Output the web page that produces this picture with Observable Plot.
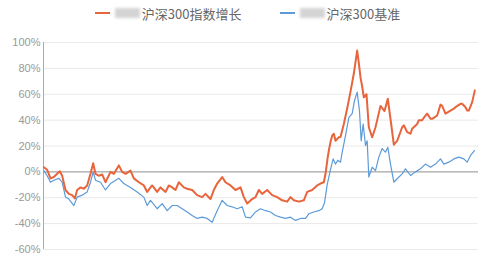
<!DOCTYPE html>
<html>
<head>
<meta charset="utf-8">
<script src="https://cdn.jsdelivr.net/npm/d3@7"></script>
<script src="https://cdn.jsdelivr.net/npm/@observablehq/plot@0.6"></script>
<style>
  body { margin: 0; background: #fff; }
  #legend { height: 26px; display: flex; justify-content: center; align-items: center; gap: 38px;
    font: 13px "Noto Sans CJK SC", sans-serif; color: #666; padding-right: 5px; }
  .item { display: flex; align-items: center; }
  .sw { display: inline-block; width: 15px; height: 2px; margin-right: 5px; }
  .blur { display: inline-block; width: 25px; height: 10px; background: #d4d4d4; filter: blur(1.5px); margin-right: 2px; }
</style>
</head>
<body>
<div id="legend"></div>
<div id="chart"></div>
<script>
const seriesNames = ["沪深300指数增长", "沪深300基准"];
const seriesColors = ["#e8653c", "#5d9bd8"];
const yTicks = [-60, -40, -20, 0, 20, 40, 60, 80, 100];

const redDays = [1,11,21,31,41,49,56,66,76,86,94,101,111,121,131,141,149,156,166,176,186,201,211,226,236,246,261,271,286,301,311,321,326,341,351,366,376,386,396,406,421,431,446,461,476,486,501,511,521,536,546,561,576,591,601,611,626,636,646,656,671,686,701,716,731,741,751,766,781,791,806,821,831,841,846,852,856,861,866,871,876,886,891,896,901,911,921,931,941,946,951,956,961,969,976,986,996,1001,1011,1023,1033,1043,1051,1061,1076,1081,1091,1101,1106,1121,1126,1136,1146,1151,1161,1166,1181,1191,1196,1206,1221,1231,1236,1251,1256,1266,1271,1276,1286,1294];
const redVals = [3.6,1.6,-5,-4,-1.5,0.5,-3,-14,-17,-18,-20.5,-14,-12,-13,-10.5,-1.5,6.7,-1.5,-3,-2,-8,0,-1.5,5,0,-1.5,1,-5,-8,-10.5,-15.5,-12,-10.5,-15.5,-12,-15.5,-10.5,-12,-14,-8,-12,-13,-14,-18,-19.5,-17,-21,-14,-9,-4,-8,-10.5,-14,-12,-19.5,-24.5,-21,-19.5,-14,-17,-14,-18,-19.5,-22,-23,-19.5,-22,-23,-22,-15.5,-14,-10.5,-9,-8,-1.5,10,16.5,23,28,29.5,24,26.8,27,32,37,49,62,76,93.8,84,73,66,57.7,60,34.5,26.8,34.5,40,51,47,56.5,37,21,24,34.5,36,30.7,29.5,33.3,37,40,40,43.6,45,41,41,43.6,52,51,45,47.4,48.8,50,52.6,52.6,50,47.4,47.4,53.9,63];

const blueDays = [1,11,21,31,46,56,66,76,91,101,116,131,141,149,156,171,186,201,226,241,261,281,301,311,321,341,356,371,386,401,416,431,446,461,476,491,506,521,536,551,566,581,596,606,621,636,651,666,681,696,711,726,741,756,771,786,796,811,826,836,843,851,861,869,876,883,891,896,906,916,926,933,941,948,953,959,966,971,976,986,996,1006,1016,1026,1033,1041,1051,1061,1076,1086,1101,1116,1131,1146,1161,1176,1191,1201,1216,1231,1246,1261,1271,1281,1293];
const blueVals = [1,-3,-8,-6.5,-5,-8,-19.5,-21,-26,-19.5,-18,-15.5,-8,0,-6.5,-8,-14,-9,-5,-9,-12,-15.5,-19.5,-26,-22,-28.5,-24.5,-30,-26,-26,-28.5,-31,-33.7,-36,-35,-36,-39,-30,-22,-26,-27,-28.5,-27,-35,-35.5,-31,-28.5,-30,-31,-33.7,-35,-36,-35,-37.5,-36,-36,-32.4,-31,-30,-28.5,-24,-10,2,10,6,9,7.5,15,28,42,45,55,61.6,47,24,37,20.4,24,-4,3.6,1,11.4,18,15.2,19,6,-8,-5.3,-1.5,2.4,-2.8,0,2.4,6,3.6,6,10,6,7.5,10,11.4,10,7.5,12.7,16.5];

const red = redDays.map((d, i) => ({day: d, v: redVals[i]}));
const blue = blueDays.map((d, i) => ({day: d, v: blueVals[i]}));

// legend
const lg = document.getElementById("legend");
seriesNames.forEach((n, i) => {
  const it = document.createElement("div");
  it.className = "item";
  it.innerHTML = `<span class="sw" style="background:${seriesColors[i]}"></span><span class="blur"></span><span>${n}</span>`;
  lg.appendChild(it);
});

const chart = Plot.plot({
  width: 500,
  height: 246,
  marginTop: 16,
  marginBottom: 23,
  marginLeft: 43,
  marginRight: 22,
  style: {fontFamily: "'Liberation Sans', Arial, sans-serif", background: "#fff"},
  x: {domain: [0, 1305], axis: null},
  y: {domain: [-60, 100], axis: null},
  marks: [
    Plot.gridY(yTicks, {stroke: "#e9e9e9", strokeOpacity: 1}),
    Plot.axisY(yTicks, {tickSize: 0, tickPadding: 3, fontSize: 11, fill: "#999", label: null, tickFormat: d => d + "%"}),
    Plot.ruleX([0], {stroke: "#aaa", strokeWidth: 1}),
    Plot.ruleY([0], {stroke: "#999", strokeWidth: 1}),
    Plot.line(blue, {x: "day", y: "v", stroke: seriesColors[1], strokeWidth: 1.2, strokeLinejoin: "round"}),
    Plot.line(red, {x: "day", y: "v", stroke: seriesColors[0], strokeWidth: 2, strokeLinejoin: "round"})
  ]
});
document.getElementById("chart").appendChild(chart);
</script>
</body>
</html>
